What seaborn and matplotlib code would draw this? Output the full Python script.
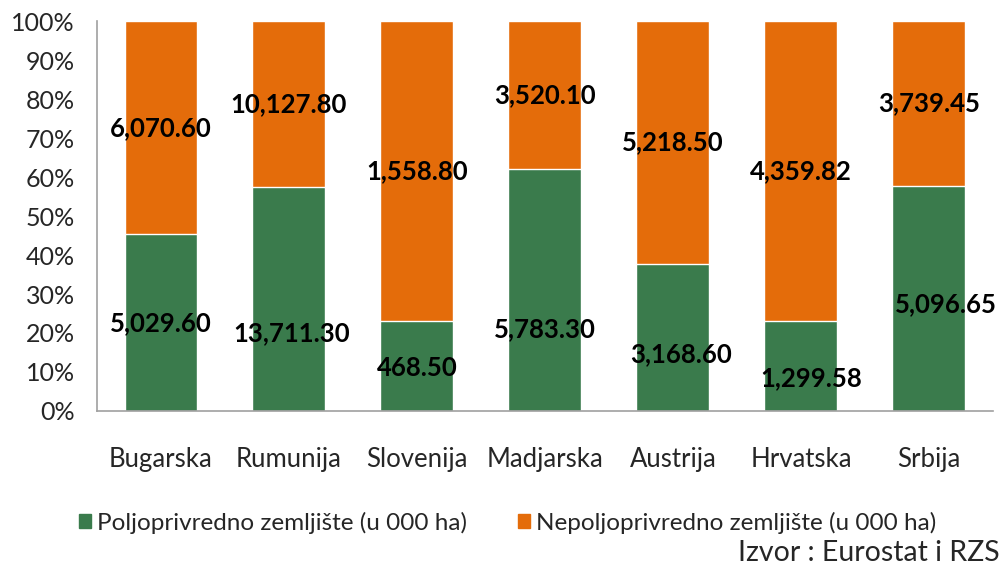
import numpy as np
import pandas as pd
import matplotlib
matplotlib.use("Agg")
import matplotlib.pyplot as plt
import seaborn as sns
from matplotlib.patches import Patch

# ================= DATA =================
countries = ["Bugarska", "Rumunija", "Slovenija", "Madjarska", "Austrija", "Hrvatska", "Srbija"]
poljo = [5029.60, 13711.30, 468.50, 5783.30, 3168.60, 1299.58, 5096.65]
nepoljo = [6070.60, 10127.80, 1558.80, 3520.10, 5218.50, 4359.82, 3739.45]
labels = ["Poljoprivredno zemljište (u 000 ha)", "Nepoljoprivredno zemljište (u 000 ha)"]

# ================= STYLE =================
GREEN = "#3A7B4C"
ORANGE = "#E46C0A"
# manual label placement for the green series (percent height, x shift)
green_lab_y = [22.5, 20.0, 11.0, 21.0, 14.5, 8.5, 27.5]
green_lab_dx = [0.0, 0.02, 0.0, 0.0, 0.06, 0.08, 0.13]

sns.set_style("white")
plt.rcParams["font.family"] = ["Lato", "DejaVu Sans"]

pct_g = np.array(poljo) / (np.array(poljo) + np.array(nepoljo)) * 100
df = pd.DataFrame({"country": countries, "total": 100.0, "green": pct_g})

fig = plt.figure(figsize=(10.05, 5.70), dpi=100)
ax = fig.add_axes([0.0965, 0.279, 0.8915, 0.684])

sns.barplot(data=df, x="country", y="total", color=ORANGE, width=0.57,
            saturation=1, ax=ax)
sns.barplot(data=df, x="country", y="green", color=GREEN, width=0.57,
            saturation=1, ax=ax)

# ================= LABELS =================
for i in range(len(countries)):
    ax.text(i, (pct_g[i] + 100) / 2, f"{nepoljo[i]:,.2f}", ha="center", va="center",
            fontsize=18.5, fontweight="bold", color="black")
    ax.text(i + green_lab_dx[i], green_lab_y[i], f"{poljo[i]:,.2f}", ha="center",
            va="center", fontsize=18.5, fontweight="bold", color="black")

ax.set_ylim(0, 100)
ax.set_xlim(-0.5, len(countries) - 0.5)
ax.set_yticks(np.arange(0, 101, 10))
ax.set_yticklabels([f"{v}%" for v in range(0, 101, 10)])
ax.set_xlabel("")
ax.set_ylabel("")
ax.tick_params(axis="y", length=0, pad=16, labelsize=18, labelcolor="#262626")
ax.tick_params(axis="x", length=0, pad=26, labelsize=18.5, labelcolor="#262626")

for s in ["top", "right"]:
    ax.spines[s].set_visible(False)
for s in ["left", "bottom"]:
    ax.spines[s].set_color("#A0A0A0")
    ax.spines[s].set_linewidth(1.2)

handles = [Patch(color=GREEN), Patch(color=ORANGE)]
fig.legend(handles, labels, loc="center", bbox_to_anchor=(0.505, 0.083), ncol=2,
           frameon=False, fontsize=17.5, handlelength=0.5, handleheight=0.5,
           handletextpad=0.25, columnspacing=2.1)

fig.text(0.995, 0.03, "Izvor : Eurostat i RZS", ha="right", va="center", fontsize=20.5)

plt.savefig("out.png", dpi=100)
